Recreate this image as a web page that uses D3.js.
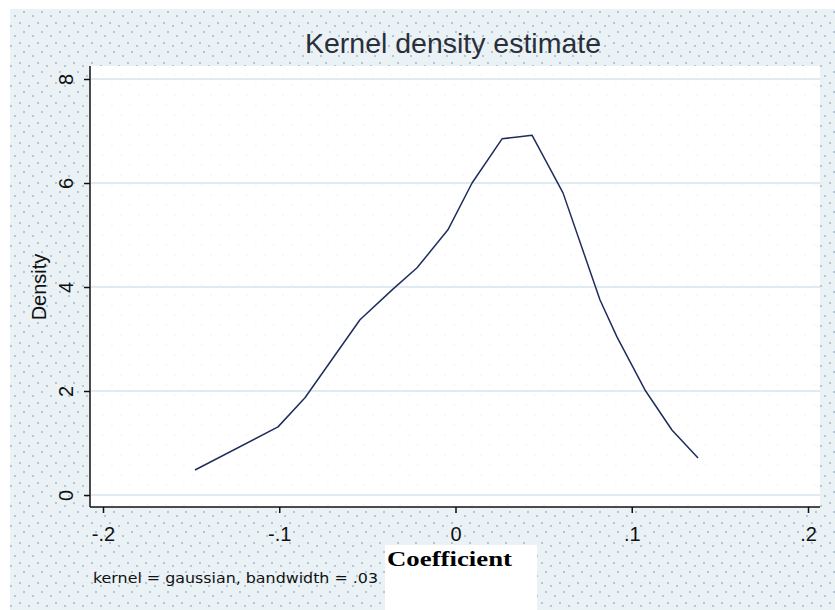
<!DOCTYPE html>
<html>
<head>
<meta charset="utf-8">
<script src="https://cdn.jsdelivr.net/npm/d3@7"></script>
<style>
html,body{margin:0;padding:0;background:#fff;}
svg{display:block;}
</style>
</head>
<body>
<div id="chart"></div>
<script>
// ---- data ----
const coef = [-0.1478, -0.1007, -0.0854, -0.0542, -0.0355, -0.0218, -0.0043, 0.0094, 0.0264, 0.0340, 0.0434, 0.0610, 0.0820, 0.0916, 0.1075, 0.1228, 0.1376];
const density = [0.48, 1.31, 1.87, 3.37, 3.96, 4.37, 5.10, 6.00, 6.85, 6.88, 6.92, 5.81, 3.75, 3.04, 2.02, 1.25, 0.71];
const xTicks = [-0.2, -0.1, 0, 0.1, 0.2];
const xTickLabels = ["-.2", "-.1", "0", ".1", ".2"];
const yTicks = [0, 2, 4, 6, 8];
const yTickLabels = ["0", "2", "4", "6", "8"];
const titleText = "Kernel density estimate";
const xTitle = "Coefficient";
const yTitle = "Density";
const noteText = "kernel = gaussian, bandwidth = .03";

const W = 835, H = 610;
const svg = d3.select("#chart").append("svg").attr("width", W).attr("height", H);

// background
const defs = svg.append("defs");
const pat = defs.append("pattern").attr("id", "dots").attr("patternUnits", "userSpaceOnUse")
  .attr("width", 18).attr("height", 20);
pat.append("rect").attr("width", 18).attr("height", 20).attr("fill", "#eaf2f5");
[[2,3],[11,6],[6,12],[15,16]].forEach(([cx, cy]) =>
  pat.append("circle").attr("cx", cx).attr("cy", cy).attr("r", 0.75).attr("fill", "#5a87ab"));
const pat2 = defs.append("pattern").attr("id", "faint").attr("patternUnits", "userSpaceOnUse")
  .attr("width", 18).attr("height", 20);
pat2.append("rect").attr("width", 18).attr("height", 20).attr("fill", "#ffffff");
[[4,5],[13,15]].forEach(([cx, cy]) =>
  pat2.append("circle").attr("cx", cx).attr("cy", cy).attr("r", 0.7).attr("fill", "#e8eff4"));

svg.append("rect").attr("x", 0).attr("y", 0).attr("width", W).attr("height", H).attr("fill", "#ffffff");
svg.append("rect").attr("x", 10).attr("y", 9).attr("width", W - 10).attr("height", H - 9).attr("fill", "url(#dots)");

// scales
const x = d3.scaleLinear().domain([-0.2, 0.2]).range([103, 808]);
const y = d3.scaleLinear().domain([0, 8]).range([495, 79]);

// plot region
const plotL = 90, plotR = 820, plotT = 66, plotB = 507;
svg.append("rect").attr("x", plotL).attr("y", plotT).attr("width", plotR - plotL).attr("height", plotB - plotT)
  .attr("fill", "url(#faint)");

// gridlines
svg.append("g").selectAll("line").data(yTicks).join("line")
  .attr("x1", plotL + 1).attr("x2", plotR)
  .attr("y1", d => y(d)).attr("y2", d => y(d))
  .attr("stroke", "#e0ebf1").attr("stroke-width", 2);

// title
svg.append("text").attr("x", 453).attr("y", 53).attr("text-anchor", "middle")
  .attr("font-family", "Liberation Sans, Arial, sans-serif").attr("font-size", 28)
  .attr("textLength", 296).attr("lengthAdjust", "spacingAndGlyphs")
  .attr("fill", "#2a2f3a").text(titleText);

// axes
const yAxis = d3.axisLeft(y).tickValues(yTicks).tickFormat((d, i) => yTickLabels[i]).tickSize(6).tickSizeOuter(0);
const gy = svg.append("g").attr("transform", `translate(${plotL},0)`).call(yAxis);
gy.select(".domain").remove();
gy.append("line").attr("x1", 0).attr("x2", 0).attr("y1", plotT).attr("y2", plotB).attr("stroke", "#111").attr("stroke-width", 1.5);
gy.selectAll(".tick line").attr("stroke", "#111").attr("stroke-width", 1.5);
gy.selectAll(".tick text")
  .attr("font-family", "Liberation Sans, Arial, sans-serif").attr("font-size", 20).attr("fill", "#111")
  .attr("x", 0).attr("dy", 0).attr("text-anchor", "middle")
  .attr("transform", "translate(-17,0) rotate(-90)");

const xAxis = d3.axisBottom(x).tickValues(xTicks).tickFormat((d, i) => xTickLabels[i]).tickSize(6).tickSizeOuter(0);
const gx = svg.append("g").attr("transform", `translate(0,${plotB})`).call(xAxis);
gx.select(".domain").remove();
gx.append("line").attr("x1", plotL).attr("x2", plotR).attr("y1", 0).attr("y2", 0).attr("stroke", "#111").attr("stroke-width", 1.5);
gx.selectAll(".tick line").attr("stroke", "#111").attr("stroke-width", 1.5);
gx.selectAll(".tick text")
  .attr("font-family", "Liberation Sans, Arial, sans-serif").attr("font-size", 20).attr("fill", "#111")
  .attr("y", 34).attr("dy", 0);

// axis titles
svg.append("text").attr("transform", `translate(46,${(y(0) + y(8)) / 2}) rotate(-90)`)
  .attr("text-anchor", "middle").attr("font-family", "Liberation Sans, Arial, sans-serif")
  .attr("font-size", 20).attr("fill", "#111").text(yTitle);

svg.append("rect").attr("x", 385).attr("y", 545).attr("width", 152).attr("height", 65).attr("fill", "#ffffff");
svg.append("text").attr("x", 387).attr("y", 566)
  .attr("font-family", "Liberation Serif, Times New Roman, serif").attr("font-weight", "bold")
  .attr("font-size", 22).attr("textLength", 125).attr("lengthAdjust", "spacingAndGlyphs")
  .attr("fill", "#000").text(xTitle);

svg.append("text").attr("x", 93).attr("y", 583)
  .attr("font-family", "DejaVu Sans, Verdana, sans-serif").attr("font-size", 14)
  .attr("textLength", 285).attr("lengthAdjust", "spacingAndGlyphs")
  .attr("fill", "#111").text(noteText);

// curve
const pts = coef.map((c, i) => [c, density[i]]);
const line = d3.line().x(d => x(d[0])).y(d => y(d[1]));
svg.append("path").datum(pts).attr("d", line).attr("fill", "none")
  .attr("stroke", "#1f2d5c").attr("stroke-width", 1.5).attr("stroke-linejoin", "round");
</script>
</body>
</html>
